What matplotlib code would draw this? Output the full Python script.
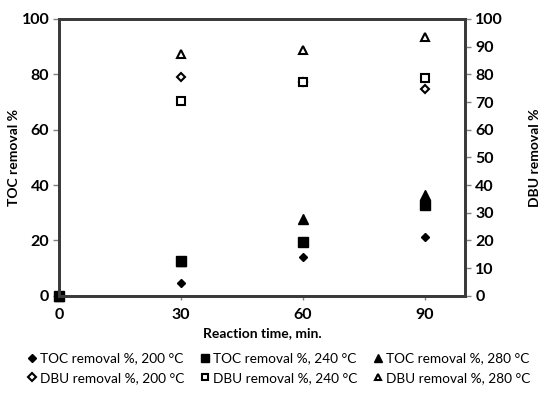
import matplotlib
matplotlib.use('Agg')
from matplotlib import pyplot as plt

plt.rcParams['font.family'] = ['Lato', 'DejaVu Sans']

time_min = [0, 30, 60, 90]

toc_200 = [0, 4.6, 14.1, 21.4]
toc_240 = [0, 12.7, 19.6, 32.9]
toc_280 = [0, 12.5, 27.7, 36.3]
dbu_200 = [0, 79.0, 77.1, 74.7]
dbu_240 = [0, 70.2, 77.1, 78.6]
dbu_280 = [0, 87.4, 88.6, 93.4]

frame_color = '#3a3a3a'

fig = plt.figure(figsize=(5.47, 3.94), dpi=100)
ax = fig.add_axes([0.108, 0.249, 0.743, 0.703])

ms = 6
h_t280, = ax.plot(time_min, toc_280, '^', color='black', ms=ms + 0.5, ls='none', label='TOC removal %, 280 °C')
h_t200, = ax.plot(time_min, toc_200, 'D', color='black', ms=ms - 1.5, ls='none', label='TOC removal %, 200 °C')
h_t240, = ax.plot(time_min, toc_240, 's', color='black', ms=ms + 0.5, ls='none', label='TOC removal %, 240 °C')
h_d200, = ax.plot(time_min[1:], dbu_200[1:], 'D', mfc='white', mec='black', mew=1.5, ms=ms - 1.5, ls='none', label='DBU removal %, 200 °C')
h_d240, = ax.plot(time_min[1:], dbu_240[1:], 's', mfc='white', mec='black', mew=1.5, ms=ms - 0.5, ls='none', label='DBU removal %, 240 °C')
h_d280, = ax.plot(time_min[1:], dbu_280[1:], '^', mfc='white', mec='black', mew=1.5, ms=ms - 0.5, ls='none', label='DBU removal %, 280 °C')

ax.set_xlim(0, 100)
ax.set_ylim(0, 100)
ax.set_xticks([0, 30, 60, 90])
ax.set_yticks(range(0, 101, 20))
for line in ax.lines:
    line.set_clip_on(False)

ax2 = ax.twinx()
ax2.set_ylim(0, 100)
ax2.set_yticks(range(0, 101, 10))

for a in (ax, ax2):
    for sp in a.spines.values():
        sp.set_color(frame_color)
        sp.set_linewidth(2)
    a.tick_params(direction='out', length=4, width=1, color='#808080',
                  labelsize=11.5, labelcolor='black', pad=3)
    for lab in a.get_xticklabels() + a.get_yticklabels():
        lab.set_fontweight('bold')
ax.tick_params(axis='x', length=3, pad=6)

ax.set_ylabel('TOC removal %', fontsize=10, fontweight='bold', ha='center', va='center')
ax.yaxis.set_label_coords(-0.111, 0.5)
ax2.set_ylabel('DBU removal %', fontsize=10, fontweight='bold', ha='center', va='center')
ax2.yaxis.set_label_coords(1.171, 0.5)
ax.set_xlabel('Reaction time, min.', fontsize=10, fontweight='bold', va='center')
ax.xaxis.set_label_coords(0.5, -0.134)

handles = [h_t200, h_d200, h_t240, h_d240, h_t280, h_d280]
fig.legend(handles, [h.get_label() for h in handles], ncol=3, loc='upper center',
           bbox_to_anchor=(0.51, 0.137), frameon=False, fontsize=9.8,
           handlelength=0.6, handletextpad=0.3, columnspacing=1.2,
           labelspacing=0.55, markerscale=0.8)

fig.savefig('out.png', dpi=100)
